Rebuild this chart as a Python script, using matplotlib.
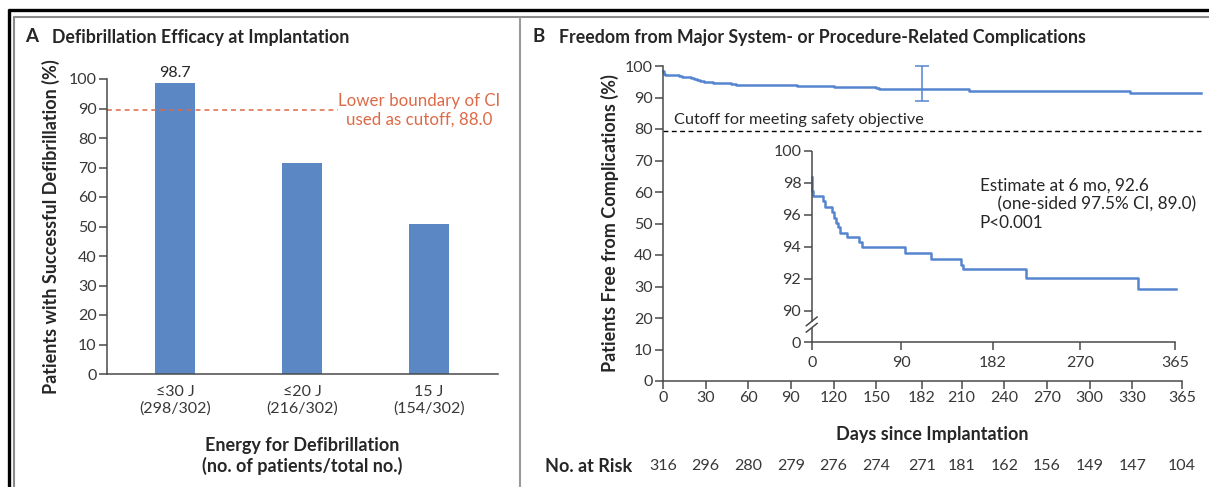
import matplotlib.pyplot as plt
from matplotlib.lines import Line2D

plt.rcParams['font.family'] = ['Lato', 'DejaVu Sans']

W, H = 1209, 487

# ---- Panel A data ----
ENERGY_LABELS = ["\u226430 J\n(298/302)", "\u226420 J\n(216/302)", "15 J\n(154/302)"]
SUCCESS_PCT = [98.7, 71.5, 51.0]
CI_LINE_Y = 89.5
A_YTICKS = [0, 10, 20, 30, 40, 50, 60, 70, 80, 90, 100]

# ---- Panel B data ----
KM_DAYS = [0, 0.8, 1.7, 11, 13.4, 20, 22, 24, 26, 28.5, 35, 47.6, 51, 94,
           120, 150, 152, 215.5, 328.5]
KM_FREE = [98.4, 97.5, 97.2, 96.9, 96.5, 96.2, 95.8, 95.5, 95.25, 94.9,
           94.6, 94.3, 94.0, 93.6, 93.25, 92.9, 92.6, 92.05, 91.4]
MAIN_END_DAY = 378
INSET_END_DAY = 366.5
EST_DAY = 182
EST_VALUE = 92.6
EST_CI = (89.0, 100.0)
SAFETY_CUTOFF = 79.4
B_XTICKS = [0, 30, 60, 90, 120, 150, 182, 210, 240, 270, 300, 330, 365]
B_YTICKS = [0, 10, 20, 30, 40, 50, 60, 70, 80, 90, 100]
RISK_N = [316, 296, 280, 279, 276, 274, 271, 181, 162, 156, 149, 147, 104]
INSET_XTICKS = [0, 90, 182, 270, 365]
INSET_YTICKS = [90, 92, 94, 96, 98, 100]

BAR_BLUE = "#5b87c5"
LINE_BLUE = "#5585cf"
CI_RED = "#dd6a47"
AXIS_GRAY = "#4a4a4a"
TEXT_DARK = "#262626"
TICK_TEXT = "#383838"

TICK_FS = 11.5
LABEL_FS = 13
TITLE_FS = 12.8


def box(x0, y0, x1, y1):
    """pixel box (top-left origin) -> figure fraction rect"""
    return [x0 / W, 1 - y1 / H, (x1 - x0) / W, (y1 - y0) / H]


def style_axes(ax):
    for s in ("top", "right"):
        ax.spines[s].set_visible(False)
    for s in ("left", "bottom"):
        ax.spines[s].set_color(AXIS_GRAY)
        ax.spines[s].set_linewidth(1.1)
    ax.tick_params(direction="out", length=6, width=1.1, color=AXIS_GRAY,
                   labelsize=TICK_FS, labelcolor=TICK_TEXT, pad=1.5)


def km_steps(end_day):
    return KM_DAYS + [end_day], KM_FREE + [KM_FREE[-1]]


def plot_panel_a(fig):
    ax = fig.add_axes(box(107, 79, 498, 374))
    style_axes(ax)
    x = list(range(len(SUCCESS_PCT)))
    ax.bar(x, SUCCESS_PCT, width=0.315, color=BAR_BLUE)
    ax.text(0, SUCCESS_PCT[0] + 0.8, f"{SUCCESS_PCT[0]:.1f}", ha="center",
            va="bottom", fontsize=TICK_FS, color=TEXT_DARK)
    ax.plot([-0.535, 1.28], [CI_LINE_Y, CI_LINE_Y], ls=(0, (3.2, 2.6)),
            color=CI_RED, lw=1.1, clip_on=False)
    ax.text(1.92, CI_LINE_Y, "Lower boundary of CI\nused as cutoff, 88.0",
            ha="center", va="center", multialignment="center",
            fontsize=12.2, color=CI_RED, linespacing=1.2)
    ax.set_xlim(-0.535, 2.543)
    ax.set_ylim(0, 100)
    ax.set_yticks(A_YTICKS)
    ax.set_xticks(x)
    ax.set_xticklabels(ENERGY_LABELS, linespacing=1.2)
    ax.tick_params(axis="x", length=0, pad=8)
    ax.set_ylabel("Patients with Successful Defibrillation (%)",
                  fontsize=LABEL_FS, fontweight="bold", color=TEXT_DARK,
                  labelpad=6)
    ax.set_xlabel("Energy for Defibrillation\n(no. of patients/total no.)",
                  fontsize=LABEL_FS, fontweight="bold", color=TEXT_DARK,
                  labelpad=15, linespacing=1.2)
    fig.text(25 / W, 1 - 37 / H, "A", fontsize=13.5, fontweight="bold",
             color=TEXT_DARK, va="center")
    fig.text(52 / W, 1 - 37 / H, "Defibrillation Efficacy at Implantation",
             fontsize=TITLE_FS, fontweight="bold", color=TEXT_DARK,
             va="center")


def plot_panel_b(fig):
    ax = fig.add_axes(box(663, 66, 1200.5, 381))
    style_axes(ax)
    d, v = km_steps(MAIN_END_DAY)
    ax.step(d, v, where="post", color=LINE_BLUE, lw=1.8, clip_on=False)
    ax.errorbar([EST_DAY], [EST_VALUE],
                yerr=[[EST_VALUE - EST_CI[0]], [EST_CI[1] - EST_VALUE]],
                fmt="none", ecolor=LINE_BLUE, elinewidth=1.1, capsize=5,
                capthick=1.1, clip_on=False)
    ax.plot([0, MAIN_END_DAY], [SAFETY_CUTOFF, SAFETY_CUTOFF], color="black",
            lw=1.0, ls=(0, (3.5, 2.5)), clip_on=False)
    ax.text(8, SAFETY_CUTOFF + 1.3, "Cutoff for meeting safety objective",
            fontsize=11.7, color=TEXT_DARK, va="bottom", ha="left")
    ax.set_xlim(0, MAIN_END_DAY)
    ax.set_ylim(0, 100)
    ax.spines["bottom"].set_bounds(0, 365)
    ax.set_xticks(B_XTICKS)
    ax.set_yticks(B_YTICKS)
    ax.set_ylabel("Patients Free from Complications (%)", fontsize=LABEL_FS,
                  fontweight="bold", color=TEXT_DARK, labelpad=4)
    ax.set_xlabel("Days since Implantation", fontsize=LABEL_FS,
                  fontweight="bold", color=TEXT_DARK, labelpad=15)
    # numbers at risk
    for day, n in zip(B_XTICKS, RISK_N):
        ax.annotate(str(n), xy=(day, 0), xycoords="data",
                    xytext=(0, -85), textcoords="offset pixels",
                    ha="center", va="center", fontsize=TICK_FS,
                    color=TICK_TEXT)
    fig.text(545 / W, 1 - 466 / H, "No. at Risk", fontsize=LABEL_FS,
             fontweight="bold", color=TEXT_DARK, va="center")

    # inset with broken axis
    ins = fig.add_axes(box(811.7, 151, 1177.7, 342))
    ins.patch.set_alpha(0)
    style_axes(ins)
    ins.spines["left"].set_visible(False)
    y0 = 88.06
    d, v = km_steps(INSET_END_DAY)
    ins.step(d, v, where="post", color=LINE_BLUE, lw=1.8, clip_on=False)
    ins.set_xlim(0, 368)
    ins.set_ylim(y0, 100)
    ins.spines["bottom"].set_bounds(0, 365)
    ins.set_xticks(INSET_XTICKS)
    ins.set_yticks([y0] + INSET_YTICKS)
    ins.set_yticklabels(["0"] + [str(t) for t in INSET_YTICKS])
    ins.tick_params(axis="x", pad=4)
    seg = dict(color=AXIS_GRAY, lw=1.1, clip_on=False, solid_capstyle="butt")
    ins.plot([0, 0], [89.3, 100], **seg)
    ins.plot([0, 0], [y0, 88.95], **seg)
    for c in (89.35, 88.95):
        ins.plot([-6, 6], [c - 0.3, c + 0.3], **seg)
    ins.text(169, 98.35, "Estimate at 6 mo, 92.6\n"
             "    (one-sided 97.5% CI, 89.0)\nP<0.001",
             fontsize=12.3, color=TEXT_DARK, va="top", ha="left",
             linespacing=1.2)

    fig.text(533 / W, 1 - 37 / H, "B", fontsize=13.5, fontweight="bold",
             color=TEXT_DARK, va="center")
    fig.text(559 / W, 1 - 37 / H,
             "Freedom from Major System- or Procedure-Related Complications",
             fontsize=TITLE_FS, fontweight="bold", color=TEXT_DARK,
             va="center")


def draw_frame(fig):
    def px_line(xs, ys, color, lw):
        fig.add_artist(Line2D([x / W for x in xs], [1 - y / H for y in ys],
                              transform=fig.transFigure, color=color, lw=lw,
                              solid_capstyle="butt"))
    px_line([8, W], [10, 10], "black", 2.4)
    px_line([9, 9], [9, H], "black", 2.4)
    px_line([13, W], [17, 17], "#8a8a8a", 1.5)
    px_line([13.5, 13.5], [17, H], "#8a8a8a", 1.5)
    px_line([520, 520], [17, H], "#9a9a9a", 1.5)


def main():
    fig = plt.figure(figsize=(W / 100, H / 100), dpi=100)
    plot_panel_a(fig)
    plot_panel_b(fig)
    draw_frame(fig)
    fig.savefig("out.png", dpi=100)


if __name__ == "__main__":
    main()
